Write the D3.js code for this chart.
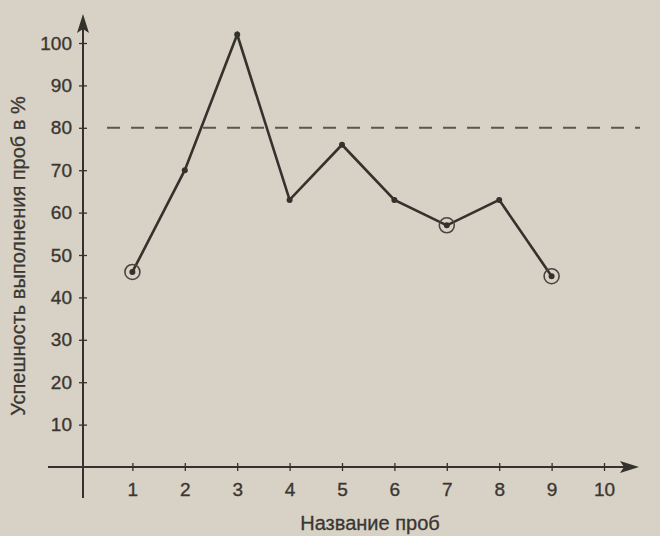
<!DOCTYPE html>
<html><head><meta charset="utf-8">
<script src="https://cdn.jsdelivr.net/npm/d3@7"></script>
<style>
html,body{margin:0;padding:0;background:#d7d2c5;}
svg{display:block;}
text{font-family:"Liberation Sans",Arial,sans-serif;fill:#3b3733;}
</style></head>
<body>
<script>
const trials = [1,2,3,4,5,6,7,8,9];
const success = [46,70,102,63,76,63,57,63,45];
const circled = [1,7,9];
const xTicks = [1,2,3,4,5,6,7,8,9,10];
const yTicks = [10,20,30,40,50,60,70,80,90,100];
const threshold = 80;
const xLabel = "Название проб";
const yLabel = "Успешность выполнения проб в %";

const W=660,H=536;
const svg=d3.select("body").append("svg").attr("width",W).attr("height",H);
svg.append("rect").attr("width",W).attr("height",H).attr("fill","#d7d2c5");

const x=d3.scaleLinear().domain([0,10]).range([80,604]);
const y=d3.scaleLinear().domain([0,100]).range([467,43]);
const ink="#35312d";
const txt="#3a3632";

// axes lines
svg.append("line").attr("x1",x(0)+3).attr("x2",x(0)+3).attr("y1",y(0)+31).attr("y2",20)
  .attr("stroke",ink).attr("stroke-width",2);
svg.append("line").attr("x1",48).attr("x2",632).attr("y1",y(0)).attr("y2",y(0))
  .attr("stroke",ink).attr("stroke-width",2);
// arrowheads
svg.append("path").attr("d",`M${x(0)+3},14 L${x(0)-3},33 L${x(0)+3},29 L${x(0)+9},33 Z`).attr("fill",ink);
svg.append("path").attr("d",`M639,${y(0)} L620,${y(0)-6} L624,${y(0)} L620,${y(0)+6} Z`).attr("fill",ink);

// y ticks using axis generator
const yAxis=d3.axisLeft(y).tickValues(yTicks).tickSize(4).tickPadding(6);
const gy=svg.append("g").attr("transform",`translate(${x(0)+3},0)`).call(yAxis);
gy.select(".domain").remove();
gy.selectAll(".tick line").attr("x2",4).attr("x1",-4).attr("stroke",ink).attr("stroke-width",1.3);
gy.selectAll(".tick text").attr("font-size",19).attr("x",-11).attr("fill",txt)
  .attr("stroke",txt).attr("stroke-width",0.35).style("font-family","Liberation Sans, Arial, sans-serif");

const xAxis=d3.axisBottom(x).tickValues(xTicks).tickSize(4).tickPadding(12);
const gx=svg.append("g").attr("transform",`translate(0,${y(0)})`).call(xAxis);
gx.select(".domain").remove();
gx.selectAll(".tick line").attr("y1",-4).attr("y2",4).attr("stroke",ink).attr("stroke-width",1.3);
gx.selectAll(".tick text").attr("font-size",19).attr("fill",txt)
  .attr("stroke",txt).attr("stroke-width",0.35).style("font-family","Liberation Sans, Arial, sans-serif");

// threshold dashed line
svg.append("line").attr("x1",107).attr("x2",640).attr("y1",y(threshold)).attr("y2",y(threshold))
  .attr("stroke","#5b5650").attr("stroke-width",2).attr("stroke-dasharray","13,11");

// data line
const line=d3.line().x((d,i)=>x(trials[i])).y(d=>y(d));
svg.append("path").datum(success).attr("d",line).attr("fill","none")
  .attr("stroke",ink).attr("stroke-width",2.6).attr("stroke-linejoin","miter");
svg.selectAll(".dot").data(success).enter().append("circle")
  .attr("cx",(d,i)=>x(trials[i])).attr("cy",d=>y(d)).attr("r",3).attr("fill",ink);
svg.selectAll(".ring").data(trials.filter(t=>circled.includes(t))).enter().append("circle")
  .attr("cx",t=>x(t)).attr("cy",t=>y(success[trials.indexOf(t)])).attr("r",7.5)
  .attr("fill","none").attr("stroke","#4a4540").attr("stroke-width",1.6);

// labels
svg.append("text").attr("x",370).attr("y",530).attr("text-anchor","middle").attr("font-size",20)
  .attr("stroke",txt).attr("stroke-width",0.3).text(xLabel);
svg.append("text").attr("transform","translate(25,256) rotate(-90)").attr("text-anchor","middle").attr("font-size",20)
  .attr("stroke",txt).attr("stroke-width",0.3).text(yLabel);
</script>
</body></html>
